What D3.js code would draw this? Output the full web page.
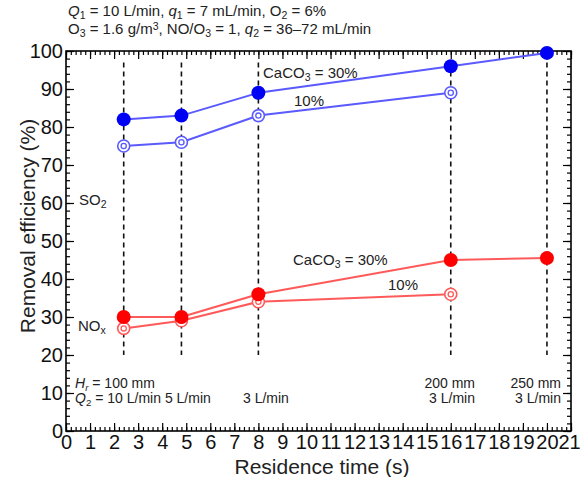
<!DOCTYPE html>
<html>
<head>
<meta charset="utf-8">
<script src="https://cdn.jsdelivr.net/npm/d3@7"></script>
<style>
  body { margin: 0; background: #fff; }
  text { font-family: "Liberation Sans", Arial, sans-serif; fill: #222; }
</style>
</head>
<body>
<script>
const w = 580;
const h = 477;
const margin = { top: 51, right: 9, bottom: 46, left: 66 };

// residence time (s) at each operating point
const times = [2.4, 4.8, 8.0, 16.0, 20.0];
const so2Caco30 = [82, 83, 89, 96, 99.5];
const so2Caco10 = [75, 76, 83, 89];
const noxCaco30 = [30, 30, 36, 45, 45.5];
const noxCaco10 = [27, 29, 34, 36];
const xTicks = d3.range(0, 22, 1);
const yTicks = d3.range(0, 101, 10);

const blue = "#0000f5";
const blueLine = "#5a5aff";
const red = "#ff0000";
const redLine = "#ff5a5a";

const svg = d3.select("body").append("svg").attr("width", w).attr("height", h);

const xScale = d3.scaleLinear().domain([0, 21]).range([margin.left, w - margin.right]);
const yScale = d3.scaleLinear().domain([0, 100]).range([h - margin.bottom, margin.top]);

// rich text helper: segments with sub / sup / italic
const richText = (g, x, y, parts, opts = {}) => {
  const t = g.append("text").attr("x", x).attr("y", y)
    .attr("font-size", opts.size || 15)
    .attr("text-anchor", opts.anchor || "start");
  if (opts.fill) t.style("fill", opts.fill);
  parts.forEach((p) => {
    if (typeof p === "string") { t.append("tspan").text(p); return; }
    const s = t.append("tspan").text(p.t);
    if (p.it) s.attr("font-style", "italic");
    if (p.sub) s.attr("font-size", "70%").attr("baseline-shift", "-25%");
    if (p.sup) s.attr("font-size", "70%").attr("baseline-shift", "40%");
  });
  return t;
};

// axes: inward ticks, minor + major
const major = 8, minor = 4;
const axB = svg.append("g").attr("transform", `translate(0,${h - margin.bottom})`);
axB.call(d3.axisBottom(xScale).tickValues(d3.range(0, 21.01, 0.2)).tickSize(-minor).tickFormat(""));
axB.append("g").call(d3.axisBottom(xScale).tickValues(xTicks).tickSize(-major).tickPadding(4).tickFormat(d3.format("d")));
const axT = svg.append("g").attr("transform", `translate(0,${margin.top})`);
axT.call(d3.axisTop(xScale).tickValues(d3.range(0, 21.01, 0.2)).tickSize(-minor).tickFormat(""));
axT.append("g").call(d3.axisTop(xScale).tickValues(xTicks).tickSize(-major).tickFormat(""));
const axL = svg.append("g").attr("transform", `translate(${margin.left},0)`);
axL.call(d3.axisLeft(yScale).tickValues(d3.range(0, 101, 2)).tickSize(-minor).tickFormat(""));
axL.append("g").call(d3.axisLeft(yScale).tickValues(yTicks).tickSize(-major).tickPadding(3).tickFormat(d3.format("d")));
const axR = svg.append("g").attr("transform", `translate(${w - margin.right},0)`);
axR.call(d3.axisRight(yScale).tickValues(d3.range(0, 101, 2)).tickSize(-minor).tickFormat(""));
axR.append("g").call(d3.axisRight(yScale).tickValues(yTicks).tickSize(-major).tickFormat(""));

svg.selectAll(".domain").remove();
svg.selectAll(".tick line").attr("stroke", "#000").attr("stroke-width", 1.2);
svg.selectAll(".tick text").attr("font-size", 20).style("font-family", "Liberation Sans, Arial, sans-serif").style("fill", "#111");
// last x label sits right at the page edge
axB.selectAll(".tick text").filter((d) => d === 21).attr("dx", -2);

svg.append("rect")
  .attr("x", margin.left).attr("y", margin.top)
  .attr("width", w - margin.left - margin.right)
  .attr("height", h - margin.top - margin.bottom)
  .attr("fill", "none").attr("stroke", "#000").attr("stroke-width", 1.6);

// dashed guides at each operating point
svg.selectAll(".guide").data(times).enter().append("line")
  .attr("class", "guide")
  .attr("x1", (d) => xScale(d)).attr("x2", (d) => xScale(d))
  .attr("y1", yScale(97)).attr("y2", yScale(20))
  .attr("stroke", "#111").attr("stroke-width", 1.6).attr("stroke-dasharray", "5,4");

const line = d3.line().x((d) => xScale(d[0])).y((d) => yScale(d[1]));

const drawSeries = (vals, lineColor, color, filled) => {
  const pts = vals.map((v, i) => [times[i], v]);
  svg.append("path").datum(pts).attr("d", line)
    .attr("fill", "none").attr("stroke", lineColor).attr("stroke-width", 2);
  const g = svg.append("g");
  if (filled) {
    g.selectAll("circle").data(pts).enter().append("circle")
      .attr("cx", (d) => xScale(d[0])).attr("cy", (d) => yScale(d[1]))
      .attr("r", 7).attr("fill", color);
  } else {
    g.selectAll(".o").data(pts).enter().append("circle")
      .attr("cx", (d) => xScale(d[0])).attr("cy", (d) => yScale(d[1]))
      .attr("r", 6).attr("fill", "#fff").attr("stroke", lineColor).attr("stroke-width", 1.6);
    g.selectAll(".i").data(pts).enter().append("circle")
      .attr("cx", (d) => xScale(d[0])).attr("cy", (d) => yScale(d[1]))
      .attr("r", 2.6).attr("fill", "none").attr("stroke", lineColor).attr("stroke-width", 1.3);
  }
};

drawSeries(noxCaco10, redLine, red, false);
drawSeries(noxCaco30, redLine, red, true);
drawSeries(so2Caco10, blueLine, blue, false);
drawSeries(so2Caco30, blueLine, blue, true);

// annotations
richText(svg, 263, 78, ["CaCO", { t: "3", sub: true }, " = 30%"]);
richText(svg, 294, 106, ["10%"]);
richText(svg, 79, 205, ["SO", { t: "2", sub: true }]);
richText(svg, 293, 265, ["CaCO", { t: "3", sub: true }, " = 30%"]);
richText(svg, 388, 290, ["10%"]);
richText(svg, 78, 331, ["NO", { t: "x", sub: true }]);

richText(svg, 75, 388, [{ t: "H", it: true }, { t: "r", sub: true, it: true }, " = 100 mm"], { size: 14 });
richText(svg, 75, 403, [{ t: "Q", it: true }, { t: "2", sub: true }, " = 10 L/min 5 L/min"], { size: 14 });
richText(svg, 243, 403, ["3 L/min"], { size: 14 });
richText(svg, 475, 388, ["200 mm"], { size: 14, anchor: "end" });
richText(svg, 475, 403, ["3 L/min"], { size: 14, anchor: "end" });
richText(svg, 561, 388, ["250 mm"], { size: 14, anchor: "end" });
richText(svg, 561, 403, ["3 L/min"], { size: 14, anchor: "end" });

// header conditions
richText(svg, 68, 16, [{ t: "Q", it: true }, { t: "1", sub: true }, " = 10 L/min, ", { t: "q", it: true }, { t: "1", sub: true }, " = 7 mL/min, O", { t: "2", sub: true }, " = 6%"], { size: 15 });
richText(svg, 68, 34, ["O", { t: "3", sub: true }, " = 1.6 g/m", { t: "3", sup: true }, ", NO/O", { t: "3", sub: true }, " = 1, ", { t: "q", it: true }, { t: "2", sub: true }, " = 36\u201372 mL/min"], { size: 15 });

// axis titles
svg.append("text")
  .attr("x", 322).attr("y", 474)
  .attr("text-anchor", "middle").attr("font-size", 21)
  .text("Residence time (s)");
svg.append("text")
  .attr("transform", `translate(35,226) rotate(-90)`)
  .attr("text-anchor", "middle").attr("font-size", 21)
  .text("Removal efficiency (%)");
</script>
</body>
</html>
